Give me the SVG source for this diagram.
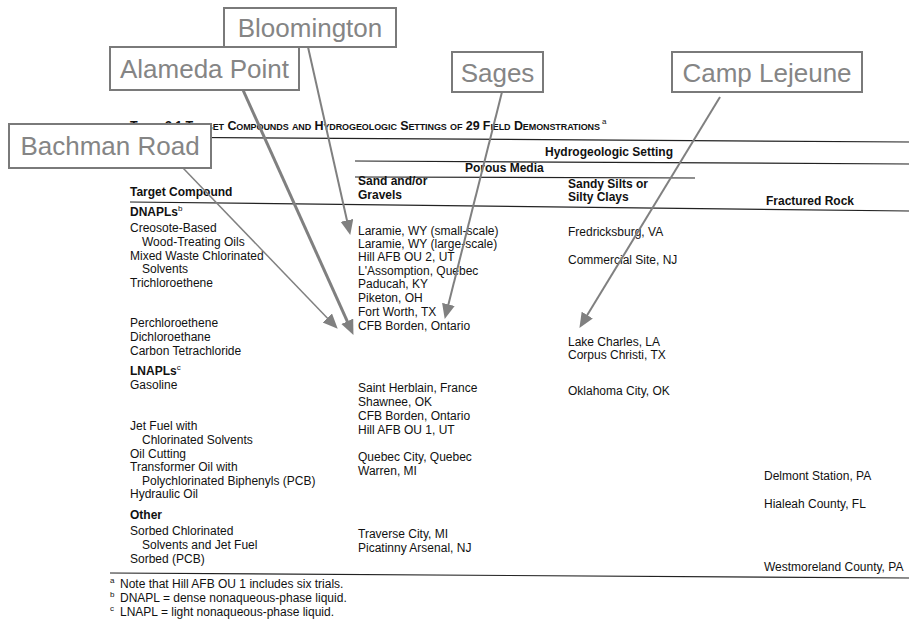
<svg xmlns="http://www.w3.org/2000/svg" width="909" height="620" viewBox="0 0 909 620">
<style>
.t{font-family:"Liberation Sans",Arial,sans-serif;font-size:12px;fill:#111}
.b{font-weight:bold}
.rule{stroke:#222;stroke-width:1.2;fill:none}
.lbl rect{fill:#fff;stroke:#7a7a7a;stroke-width:2}
.lbl text{font-family:"Liberation Sans",Arial,sans-serif;font-size:26px;fill:#858585;text-anchor:middle}
.con{stroke:#808080;fill:none}
.ttl{font-family:"Liberation Sans",Arial,sans-serif;font-size:12.5px;font-weight:bold;font-variant:small-caps;fill:#111}
</style>
<defs>
<marker id="ah" markerUnits="userSpaceOnUse" markerWidth="16" markerHeight="14" refX="2" refY="6.5" orient="auto">
<path d="M0,0 L15,6.5 L0,13 z" fill="#808080"/>
</marker>
</defs>
<rect width="909" height="620" fill="#fff"/>
<g id="table">
<text class="ttl" x="130" y="130" textLength="470" lengthAdjust="spacing">Table 3.1  Target Compounds and Hydrogeologic Settings of 29 Field Demonstrations</text>
<text class="t" x="602" y="124" style="font-size:8px">a</text>
<line class="rule" x1="130" y1="137" x2="909" y2="142"/>
<text class="t b" x="545" y="156">Hydrogeologic Setting</text>
<line class="rule" x1="355" y1="161" x2="909" y2="164"/>
<text class="t b" x="465" y="172">Porous Media</text>
<line class="rule" x1="355" y1="177" x2="695" y2="178"/>
<text class="t b" x="358" y="185">Sand and/or</text>
<text class="t b" x="358" y="199">Gravels</text>
<text class="t b" x="568" y="188">Sandy Silts or</text>
<text class="t b" x="568" y="201">Silty Clays</text>
<text class="t b" x="130" y="196">Target Compound</text>
<text class="t b" x="766" y="205">Fractured Rock</text>
<line class="rule" x1="130" y1="202" x2="909" y2="211"/>

<text class="t b" x="130" y="216">DNAPLs<tspan style="font-size:8px;font-weight:normal" dy="-5">b</tspan></text>
<text class="t" x="130" y="232">Creosote-Based</text>
<text class="t" x="142" y="246">Wood-Treating Oils</text>
<text class="t" x="130" y="260">Mixed Waste Chlorinated</text>
<text class="t" x="142" y="273">Solvents</text>
<text class="t" x="130" y="287">Trichloroethene</text>
<text class="t" x="130" y="327">Perchloroethene</text>
<text class="t" x="130" y="341">Dichloroethane</text>
<text class="t" x="130" y="355">Carbon Tetrachloride</text>
<text class="t b" x="130" y="375">LNAPLs<tspan style="font-size:8px;font-weight:normal" dy="-5">c</tspan></text>
<text class="t" x="130" y="389">Gasoline</text>
<text class="t" x="130" y="430">Jet Fuel with</text>
<text class="t" x="142" y="444">Chlorinated Solvents</text>
<text class="t" x="130" y="458">Oil Cutting</text>
<text class="t" x="130" y="471">Transformer Oil with</text>
<text class="t" x="142" y="485">Polychlorinated Biphenyls (PCB)</text>
<text class="t" x="130" y="498">Hydraulic Oil</text>
<text class="t b" x="130" y="519">Other</text>
<text class="t" x="130" y="535">Sorbed Chlorinated</text>
<text class="t" x="142" y="549">Solvents and Jet Fuel</text>
<text class="t" x="130" y="563">Sorbed (PCB)</text>

<text class="t" x="358" y="235">Laramie, WY (small-scale)</text>
<text class="t" x="358" y="248">Laramie, WY (large-scale)</text>
<text class="t" x="358" y="261">Hill AFB OU 2, UT</text>
<text class="t" x="358" y="275">L'Assomption, Quebec</text>
<text class="t" x="358" y="288">Paducah, KY</text>
<text class="t" x="358" y="302">Piketon, OH</text>
<text class="t" x="358" y="316">Fort Worth, TX</text>
<text class="t" x="358" y="330">CFB Borden, Ontario</text>
<text class="t" x="358" y="392">Saint Herblain, France</text>
<text class="t" x="358" y="406">Shawnee, OK</text>
<text class="t" x="358" y="420">CFB Borden, Ontario</text>
<text class="t" x="358" y="434">Hill AFB OU 1, UT</text>
<text class="t" x="358" y="461">Quebec City, Quebec</text>
<text class="t" x="358" y="475">Warren, MI</text>
<text class="t" x="358" y="538">Traverse City, MI</text>
<text class="t" x="358" y="552">Picatinny Arsenal, NJ</text>

<text class="t" x="568" y="236">Fredricksburg, VA</text>
<text class="t" x="568" y="264">Commercial Site, NJ</text>
<text class="t" x="568" y="346">Lake Charles, LA</text>
<text class="t" x="568" y="359">Corpus Christi, TX</text>
<text class="t" x="568" y="395">Oklahoma City, OK</text>

<text class="t" x="764" y="480">Delmont Station, PA</text>
<text class="t" x="764" y="508">Hialeah County, FL</text>
<text class="t" x="764" y="571">Westmoreland County, PA</text>

<line class="rule" x1="110" y1="573" x2="909" y2="578"/>
<text class="t" x="110" y="583" style="font-size:8px">a</text>
<text class="t" x="120" y="588">Note that Hill AFB OU 1 includes six trials.</text>
<text class="t" x="110" y="597" style="font-size:8px">b</text>
<text class="t" x="120" y="602">DNAPL = dense nonaqueous-phase liquid.</text>
<text class="t" x="110" y="611" style="font-size:8px">c</text>
<text class="t" x="120" y="616">LNAPL = light nonaqueous-phase liquid.</text>
</g>
<g id="connectors">
<line class="con" stroke-width="1.5" x1="183" y1="168" x2="328.7" y2="319.4" marker-end="url(#ah)"/>
<line class="con" stroke-width="3" x1="243" y1="90" x2="348.1" y2="323.1" marker-end="url(#ah)"/>
<line class="con" stroke-width="2" x1="308" y1="47" x2="347.4" y2="222.3" marker-end="url(#ah)"/>
<line class="con" stroke-width="2" x1="502" y1="92" x2="447.9" y2="306.4" marker-end="url(#ah)"/>
<line class="con" stroke-width="2" x1="720" y1="97" x2="586.2" y2="316.8" marker-end="url(#ah)"/>
</g>
<g id="bloomington" class="lbl"><rect x="224" y="8" width="172" height="39"/><text x="310" y="37">Bloomington</text></g>
<g id="alameda-point" class="lbl"><rect x="110" y="47" width="189" height="43"/><text x="204.5" y="78">Alameda Point</text></g>
<g id="sages" class="lbl"><rect x="452" y="52" width="91" height="40"/><text x="497.5" y="82">Sages</text></g>
<g id="camp-lejeune" class="lbl"><rect x="672" y="52" width="190" height="40"/><text x="767" y="82">Camp Lejeune</text></g>
<g id="bachman-road" class="lbl"><rect x="9" y="124" width="202" height="44"/><text x="110" y="155">Bachman Road</text></g>
</svg>
